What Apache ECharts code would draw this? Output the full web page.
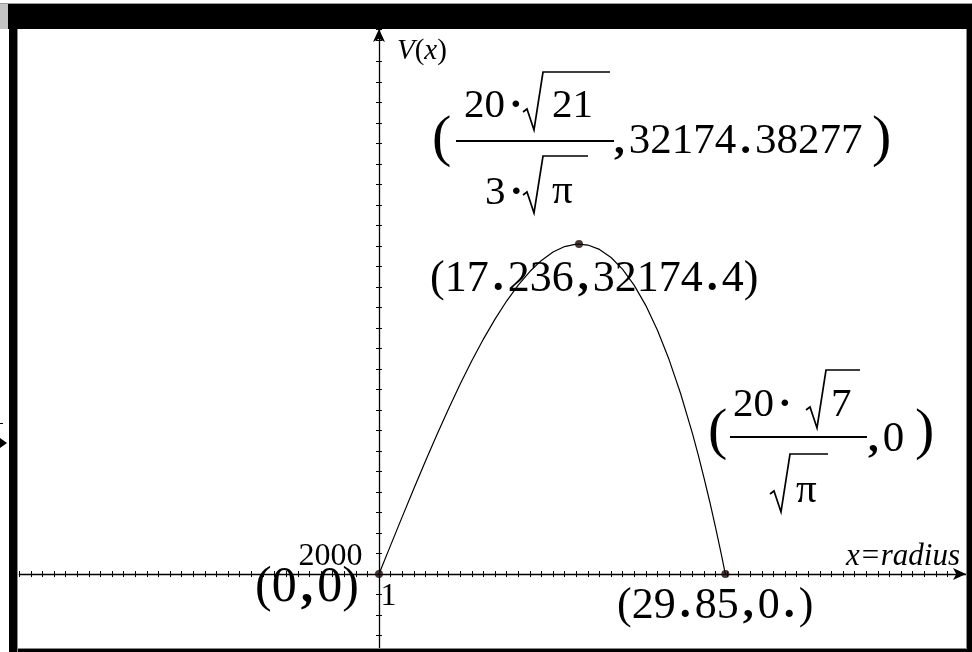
<!DOCTYPE html>
<html>
<head>
<meta charset="utf-8">
<script src="https://cdn.jsdelivr.net/npm/echarts@6/dist/echarts.min.js"></script>
<style>
  html, body { margin: 0; padding: 0; background: #fff; }
  #chart { width: 972px; height: 652px; }
</style>
</head>
<body>
<div id="chart"></div>
<script>
// V(x), x = radius
const radius = [0, 1, 2, 3, 4, 5, 6, 7, 8, 9, 10, 11, 12, 13, 14, 15, 16, 17, 17.236,
  18, 19, 20, 21, 22, 23, 24, 25, 26, 27, 27.5, 28, 28.5, 29, 29.5, 29.85];
const volume = [0, 2797, 5575, 8315, 10999, 13607, 16121, 18522, 20792, 22910, 24858,
  26619, 28171, 29498, 30580, 31397, 31932, 32165, 32174.4, 32078, 31652, 30867, 29706,
  28148, 26176, 23771, 20913, 17583, 13764, 11665, 9436, 7075, 4580, 1948, 0];

// marked points: origin, maximum, zero
const markX = [0, 17.236, 29.85];
const markY = [0, 32174.4, 0];

// axis window and ticks
const xMin = -31, xMax = 50.59, xStep = 1;
const yMin = -8000, yMax = 53145, yStep = 2000;
const xTickLabel = 1;
const yTickLabel = 2000;

const serif = '"Liberation Serif", "DejaVu Serif", serif';

const chart = echarts.init(document.getElementById('chart'));

// helpers for the annotation text (TI style: wide . and ,)
const spaced = s => s.replace(/[.,·]/g, c => '{p|' + c + '}');
const txt = (x, y, text, size, extra) => ({
  type: 'text', x: x, y: y, z: 100,
  style: Object.assign({
    text: spaced(text), font: size + 'px ' + serif, fill: '#000',
    align: 'left', verticalAlign: 'middle',
    rich: { p: { font: 'bold ' + size + 'px ' + serif, padding: [0, 4, 0, 4] } }
  }, extra || {})
});
const rule = (x1, x2, y, w) => ({
  type: 'rect', z: 100, shape: { x: x1, y: y - (w || 2) / 2, width: x2 - x1, height: w || 2 },
  style: { fill: '#000' }
});
// radical sign: hook, down stroke, up stroke, vinculum
const radical = (x, yTop, yBot, xEnd) => ({
  type: 'polyline', z: 100,
  shape: { points: [[x - 3, yBot - 18], [x + 1, yBot - 21], [x + 8, yBot], [x + 17, yTop], [xEnd, yTop]] },
  style: { stroke: '#000', lineWidth: 1.7, fill: null }
});
const box = (x, y, w, h, fill) => ({
  type: 'rect', z: 200, shape: { x: x, y: y, width: w, height: h }, style: { fill: fill }
});

const tickAxis = {
  type: 'value',
  splitLine: { show: false },
  axisLabel: { show: false },
  axisTick: { length: 3, lineStyle: { color: '#000', width: 1 } }
};
const mainLine = { color: '#000', width: 1.3 };
const tickLabel = (position, distance, offset) => ({
  show: true, position: position, distance: distance, offset: offset,
  color: '#000', opacity: 1, textBorderWidth: 0, fontWeight: 'normal',
  fontSize: 32, fontFamily: serif, formatter: p => p.name
});

const option = {
  animation: false,
  backgroundColor: '#fff',
  grid: { left: 19.28, right: 6, top: 29, bottom: -4.1, containLabel: false, outerBoundsMode: 'none' },
  xAxis: [
    Object.assign({}, tickAxis, {
      min: xMin, max: xMax, interval: xStep, position: 'bottom',
      axisLine: { onZero: true, onZeroAxisIndex: 0, symbol: ['none', 'arrow'], symbolSize: [9, 13], lineStyle: mainLine }
    }),
    Object.assign({}, tickAxis, {
      min: xMin, max: xMax, interval: xStep, position: 'top',
      axisLine: { show: false, onZero: true, onZeroAxisIndex: 0 }
    })
  ],
  yAxis: [
    Object.assign({}, tickAxis, {
      min: yMin, max: yMax, interval: yStep, position: 'left',
      axisLine: { onZero: true, onZeroAxisIndex: 0, symbol: ['none', 'arrow'], symbolSize: [9, 13], lineStyle: mainLine }
    }),
    Object.assign({}, tickAxis, {
      min: yMin, max: yMax, interval: yStep, position: 'right',
      axisLine: { show: false, onZero: true, onZeroAxisIndex: 0 }
    })
  ],
  series: [
    {
      type: 'line',
      xAxisIndex: 0, yAxisIndex: 0,
      data: radius.map((r, i) => [r, volume[i]]),
      showSymbol: false,
      smooth: false,
      lineStyle: { color: '#000', width: 1.2 },
      z: 3
    },
    {
      type: 'scatter',
      xAxisIndex: 0, yAxisIndex: 0,
      data: markX.map((x, i) => [x, markY[i]]),
      symbolSize: 8,
      itemStyle: { color: '#1c0606' },
      z: 4
    },
    {
      // the two tick labels the calculator shows
      type: 'scatter',
      xAxisIndex: 0, yAxisIndex: 0,
      symbolSize: 1,
      itemStyle: { color: '#000' },
      silent: true,
      data: [
        { name: String(xTickLabel), value: [xTickLabel, 0], label: tickLabel('bottom', 6, [-2, 0]) },
        { name: String(yTickLabel), value: [0, yTickLabel], label: tickLabel('left', 16, [0, 3]) }
      ],
      z: 5
    }
  ],
  graphic: [
    // frame of the calculator window
    box(0, 3, 972, 1, '#9a9a9a'),
    box(8, 4, 964, 25, '#000'),
    box(0, 4, 8, 25, '#c4c4c4'),
    box(9, 29, 8, 623, '#000'),
    box(17, 29, 1, 623, '#8a8a8a'),
    box(967, 29, 5, 623, '#000'),
    box(966, 29, 1, 623, '#8a8a8a'),
    box(18, 649, 949, 3, '#000'),
    box(18, 648, 949, 1, '#8a8a8a'),
    { type: 'polygon', z: 200, shape: { points: [[0, 438], [7, 443], [0, 448]] }, style: { fill: '#000' } },
    box(0, 423, 3, 1, '#000'),

    // axis names
    {
      type: 'text', x: 397, y: 51, z: 100,
      style: { text: '{i|V}{n|(}{i|x}{n|)}', fill: '#000', align: 'left', verticalAlign: 'middle',
        rich: { i: { font: 'italic 29px ' + serif }, n: { font: '29px ' + serif } } }
    },
    {
      type: 'text', x: 960, y: 557, z: 100,
      style: { text: 'x=radius', font: 'italic 31px ' + serif, fill: '#000',
        align: 'right', verticalAlign: 'middle' }
    },

    // exact maximum
    txt(432, 140, '(', 58),
    txt(464, 106, '20·', 41),
    radical(526, 72, 130, 610),
    txt(552, 106, '21', 41),
    rule(456, 614, 141),
    txt(485, 193, '3·', 41),
    radical(526, 156, 213, 588),
    txt(552, 192, 'π', 41),
    txt(610, 142, ',32174.38277', 43),
    txt(872, 140, ')', 58),

    // exact zero
    txt(708, 433, '(', 58),
    txt(733, 405, '20·', 41),
    radical(809, 370, 428, 860),
    txt(831, 405, '7', 41),
    rule(730, 867, 437),
    radical(773, 454, 512, 828),
    txt(796, 491, 'π', 41),
    txt(864, 440, ',0', 43),
    txt(915, 433, ')', 58),

    // approximate points
    txt(430, 279, '(17.236,32174.4)', 44),
    txt(255, 588, '(0,0)', 50),
    txt(617, 606, '(29.85,0.)', 44)
  ]
};

chart.setOption(option);
</script>
</body>
</html>
